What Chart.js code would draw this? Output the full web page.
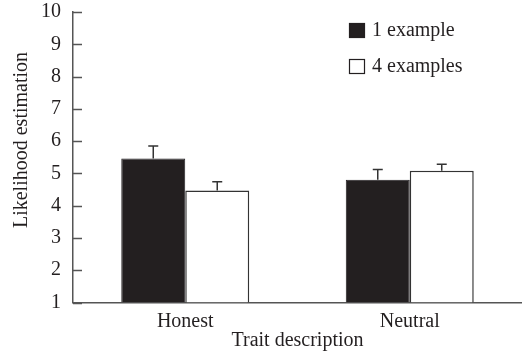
<!DOCTYPE html>
<html>
<head>
<meta charset="utf-8">
<script src="https://cdn.jsdelivr.net/npm/chart.js@4"></script>
<style>
  html, body { margin: 0; padding: 0; background: #fff; }
  #wrap { width: 522px; height: 359px; position: relative; }
</style>
</head>
<body>
<div id="wrap"><canvas id="trait"></canvas></div>
<script>
const categories = ["Honest", "Neutral"];
const oneExample = [5.46, 4.80];
const oneExampleErr = [0.39, 0.32];
const fourExamples = [4.47, 5.08];
const fourExamplesErr = [0.27, 0.20];
const yTicks = [1, 2, 3, 4, 5, 6, 7, 8, 9, 10];
const xTitle = "Trait description";
const yTitle = "Likelihood estimation";

const ink = "#231f20";
const serif = "'Liberation Serif', 'Times New Roman', serif";

// error bars, only the upper half like in the paper
const errorBars = {
  id: "errorBars",
  afterDatasetsDraw(chart) {
    const { ctx, scales: { y } } = chart;
    ctx.save();
    ctx.strokeStyle = "#333";
    ctx.lineWidth = 1.5;
    chart.data.datasets.forEach((ds, i) => {
      chart.getDatasetMeta(i).data.forEach((bar, j) => {
        const top = y.getPixelForValue(ds.data[j] + ds.errors[j]);
        ctx.beginPath();
        ctx.moveTo(bar.x, bar.y);
        ctx.lineTo(bar.x, top);
        ctx.moveTo(bar.x - 5, top);
        ctx.lineTo(bar.x + 5, top);
        ctx.stroke();
      });
    });
    ctx.restore();
  }
};

// inward tick marks, legend in the top right corner, rotated y title
const extras = {
  id: "extras",
  afterDraw(chart) {
    const { ctx, chartArea: { left, right, top }, scales: { y } } = chart;
    ctx.save();
    ctx.strokeStyle = "#555";
    ctx.lineWidth = 1.5;
    ctx.beginPath();
    y.ticks.forEach(t => {
      const py = Math.round(y.getPixelForValue(t.value)) + 0.5;
      ctx.moveTo(left, py);
      ctx.lineTo(left + 9, py);
    });
    ctx.stroke();

    ctx.font = "20px " + serif;
    ctx.textBaseline = "middle";
    ctx.textAlign = "left";
    chart.data.datasets.forEach((ds, i) => {
      const bx = right - 173;
      const by = top + 11 + i * 36;
      ctx.fillStyle = ds.backgroundColor;
      ctx.fillRect(bx, by, 16, 15);
      ctx.strokeStyle = ink;
      ctx.lineWidth = 1.2;
      ctx.strokeRect(bx + 0.5, by + 0.5, 15, 14);
      ctx.fillStyle = ink;
      ctx.fillText(ds.label, bx + 23, by + 8);
    });

    ctx.translate(22, 140);
    ctx.rotate(-Math.PI / 2);
    ctx.textAlign = "center";
    ctx.fillText(yTitle, 0, 0);
    ctx.restore();
  }
};

new Chart(document.getElementById("trait"), {
  type: "bar",
  data: {
    labels: categories,
    datasets: [
      {
        label: "1 example",
        data: oneExample,
        errors: oneExampleErr,
        backgroundColor: ink,
        borderColor: ink,
        borderWidth: 1
      },
      {
        label: "4 examples",
        data: fourExamples,
        errors: fourExamplesErr,
        backgroundColor: "#ffffff",
        borderColor: "#333",
        borderWidth: 1.5
      }
    ]
  },
  plugins: [errorBars, extras],
  options: {
    responsive: true,
    maintainAspectRatio: false,
    animation: false,
    base: 1,
    categoryPercentage: 0.57,
    barPercentage: 1.0,
    layout: { padding: { top: 12, right: 0, bottom: 0, left: 0 } },
    plugins: {
      legend: { display: false },
      tooltip: { enabled: false }
    },
    scales: {
      x: {
        grid: { display: false, drawTicks: false },
        border: { display: true, color: "#555", width: 1.5 },
        ticks: { color: ink, font: { family: serif, size: 20 }, padding: 7 },
        title: {
          display: true,
          text: xTitle,
          color: ink,
          font: { family: serif, size: 20 },
          padding: { top: 0, bottom: 6 }
        },
        afterFit(scale) { scale.height = 56.5; }
      },
      y: {
        min: 1,
        max: 10,
        afterBuildTicks(scale) { scale.ticks = yTicks.map(v => ({ value: v })); },
        grid: { display: false, drawTicks: false },
        border: { display: true, color: "#555", width: 1.5 },
        ticks: { color: ink, font: { family: serif, size: 20 }, padding: 12 },
        afterFit(scale) {
          scale.width = 73;
          scale.paddingTop = 0;
          scale.paddingBottom = 0;
        }
      }
    }
  }
});
</script>
</body>
</html>
